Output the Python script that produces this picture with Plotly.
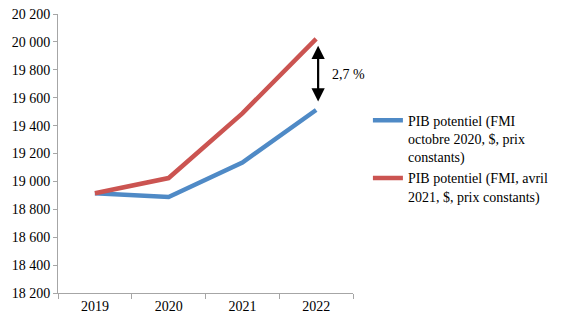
import plotly.graph_objects as go

years = ["2019", "2020", "2021", "2022"]
pib_oct2020 = [18915, 18888, 19135, 19512]
pib_avr2021 = [18915, 19024, 19488, 20022]
names = ["PIB potentiel (FMI<br>octobre 2020, $, prix<br>constants)",
         "PIB potentiel (FMI, avril<br>2021, $, prix constants)"]
ecart_label = "2,7 %"
y_ticks = list(range(18200, 20201, 200))

FONT = "Liberation Serif"
last = len(years) - 1

fig = go.Figure()
fig.add_trace(go.Scatter(x=years, y=pib_oct2020, mode="lines", name=names[0],
                         line=dict(color="#4F8AC6", width=4.5)))
fig.add_trace(go.Scatter(x=years, y=pib_avr2021, mode="lines", name=names[1],
                         line=dict(color="#CB5451", width=4.5)))

# double-headed arrow between the two 2022 values
fig.add_annotation(x=last, y=pib_avr2021[-1] - 50, ax=last, ay=pib_oct2020[-1] + 50,
                   xref="x", yref="y", axref="x", ayref="y", text="",
                   showarrow=True, arrowhead=2, arrowside="end+start", arrowsize=1.2,
                   arrowwidth=2.2, arrowcolor="black", xshift=2)
fig.add_annotation(x=last, y=(pib_avr2021[-1] + pib_oct2020[-1]) / 2,
                   xref="x", yref="y", text=ecart_label, showarrow=False,
                   xanchor="left", xshift=14, font=dict(family=FONT, size=14, color="black"))

fig.update_layout(
    width=565, height=324,
    margin=dict(l=58, r=211, t=14, b=31),
    paper_bgcolor="white", plot_bgcolor="white",
    separators=", ",
    font=dict(family=FONT, size=14, color="black"),
    showlegend=True,
    legend=dict(x=1.047, y=0.675, xanchor="left", yanchor="top", valign="top",
                font=dict(family=FONT, size=14), tracegroupgap=0,
                itemwidth=30, bgcolor="rgba(0,0,0,0)"),
    xaxis=dict(type="category", range=[-0.5, last + 0.5], showline=True, automargin=False,
               linecolor="#A6A6A6", linewidth=1, ticks="outside",
               tickcolor="#A6A6A6", ticklen=5, showgrid=False, tickson="boundaries",
               zeroline=False, tickfont=dict(family=FONT, size=14), tickangle=0),
    yaxis=dict(range=[18200, 20200], tickvals=y_ticks, tickformat=",d", automargin=False,
               showline=True, linecolor="#A6A6A6", linewidth=1, ticks="outside",
               tickcolor="#A6A6A6", ticklen=4, showgrid=False, zeroline=False,
               tickfont=dict(family=FONT, size=14)),
)

fig.write_html("out.html")
